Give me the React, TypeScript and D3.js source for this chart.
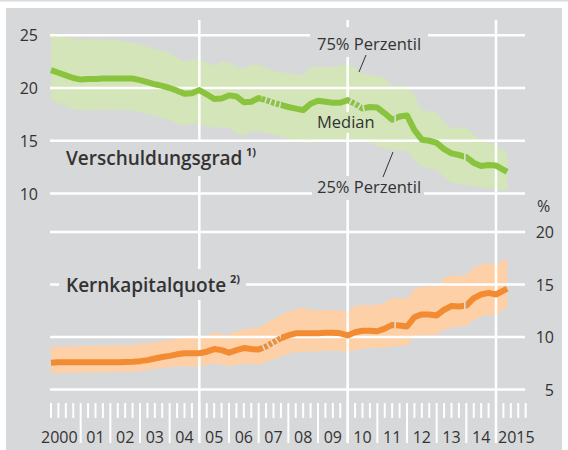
import React from "react";
import * as d3 from "d3";

// ---- data (quarterly, last point Apr 2015) ----
const dates: number[] = [...d3.range(61).map((i) => 2000 + i * 0.25), 2015.375];

const vgMedian = [
  21.7, 21.45, 21.2, 20.95, 20.8, 20.85, 20.85, 20.9, 20.9, 20.9, 20.9, 20.9,
  20.75, 20.55, 20.35, 20.2, 20.0, 19.75, 19.45, 19.5, 19.8, 19.4, 18.95, 19.0,
  19.3, 19.2, 18.65, 18.7, 19.05, 18.85, 18.6, 18.4, 18.2, 18.05, 17.9, 18.5,
  18.8, 18.7, 18.6, 18.6, 18.85, 18.5, 18.05, 18.2, 18.15, 17.6, 17.0, 17.3,
  17.4, 16.0, 15.1, 15.0, 14.8, 14.2, 13.8, 13.65, 13.45, 12.9, 12.6, 12.7,
  12.65, 12.05,
];
const vgP75 = [
  25.3, 25.1, 24.85, 24.65, 24.6, 24.6, 24.6, 24.6, 24.6, 24.5, 24.4, 24.3,
  24.1, 23.9, 23.7, 23.5, 23.3, 22.9, 22.5, 22.7, 22.65, 22.4, 22.1, 22.5,
  22.4, 22.0, 21.85, 22.2, 22.2, 21.9, 21.6, 21.5, 21.4, 21.3, 21.2, 22.0,
  22.0, 22.0, 22.0, 22.1, 22.3, 21.9, 21.3, 21.2, 21.2, 21.0, 20.2, 20.3,
  20.2, 19.3, 17.9, 17.8, 17.7, 16.7, 16.2, 16.25, 16.3, 15.6, 15.0, 14.8,
  14.4, 14.0,
];
const vgP25 = [
  18.85, 18.6, 18.3, 18.0, 17.9, 17.9, 17.95, 17.95, 17.95, 17.95, 17.9, 17.9,
  17.75, 17.55, 17.35, 17.15, 16.95, 16.6, 16.45, 16.6, 16.6, 16.4, 16.2, 16.25,
  16.3, 15.7, 15.5, 15.9, 15.9, 15.75, 15.6, 15.4, 15.2, 15.0, 14.8, 14.8,
  15.0, 15.1, 15.1, 15.1, 15.1, 15.1, 15.1, 14.8, 14.5, 14.3, 14.1, 14.1,
  14.0, 13.2, 12.6, 12.4, 12.2, 11.6, 11.1, 10.9, 10.8, 10.7, 10.6, 10.5,
  10.4, 10.3,
];

const kkMedian = [
  7.55, 7.6, 7.6, 7.6, 7.6, 7.6, 7.6, 7.6, 7.6, 7.6, 7.62, 7.65,
  7.7, 7.8, 7.95, 8.1, 8.2, 8.35, 8.45, 8.45, 8.45, 8.6, 8.85, 8.75,
  8.5, 8.75, 8.95, 8.85, 8.8, 9.1, 9.5, 9.9, 10.15, 10.35, 10.35, 10.35,
  10.35, 10.4, 10.4, 10.35, 10.15, 10.45, 10.6, 10.6, 10.55, 10.8, 11.15, 11.1,
  11.0, 11.9, 12.15, 12.15, 12.05, 12.6, 12.95, 12.9, 13.0, 13.7, 14.05, 14.2,
  14.05, 14.6,
];
const kkP75 = [
  9.1, 9.1, 9.1, 9.12, 9.15, 9.15, 9.15, 9.17, 9.2, 9.2, 9.22, 9.25,
  9.3, 9.4, 9.5, 9.6, 9.7, 9.8, 9.9, 9.95, 10.0, 10.2, 10.4, 10.3,
  10.2, 10.6, 10.75, 10.8, 10.9, 11.3, 11.7, 12.1, 12.4, 12.7, 12.75, 12.6,
  12.55, 12.6, 12.55, 12.5, 12.4, 12.95, 13.05, 13.05, 13.05, 13.3, 13.7, 13.7,
  13.7, 14.6, 14.8, 14.8, 14.8, 15.6, 15.85, 15.85, 15.9, 16.6, 16.95, 17.0,
  16.9, 17.5,
];
const kkP25 = [
  6.55, 6.55, 6.57, 6.6, 6.6, 6.6, 6.62, 6.65, 6.65, 6.67, 6.7, 6.7,
  6.75, 6.85, 6.95, 7.05, 7.15, 7.2, 7.2, 7.2, 7.2, 7.35, 7.5, 7.35,
  7.2, 7.35, 7.45, 7.4, 7.35, 7.6, 7.9, 8.15, 8.4, 8.55, 8.6, 8.6,
  8.65, 8.7, 8.75, 8.7, 8.5, 8.75, 8.9, 8.95, 8.95, 9.0, 9.1, 9.15,
  9.15, 10.0, 10.2, 10.2, 10.2, 10.7, 10.9, 11.0, 11.05, 11.6, 11.95, 12.1,
  12.1, 12.8,
];

const leftTicks = [25, 20, 15, 10];
const rightTicks = [20, 15, 10, 5];
const yearLabels = ["2000", "01", "02", "03", "04", "05", "06", "07", "08", "09", "10", "11", "12", "13", "14", "2015"];
// series breaks (dashed segments / single breaks), in decimal years
const dashedSpans = [
  [2007.1, 2007.75],
];
const vgDashedExtra = [[2010.05, 2010.6]];
const breaks = [2011.6, 2013.95];

const BG = "#d7d8da";
const GREEN = "#8ac43f";
const GREEN_BAND = "#d3e5b9";
const ORANGE = "#f28b32";
const ORANGE_BAND = "#fdd0a8";
const TXT = "#333333";
const STRIPE = "#dcdedd";
const FONT = "'Open Sans', 'Noto Sans', sans-serif";

export default function App() {
  const x = d3.scaleLinear().domain([2000, 2015]).range([51, 496]);
  const yL = d3.scaleLinear().domain([10, 25]).range([193.5, 35.25]);
  const yR = d3.scaleLinear().domain([5, 20]).range([389.5, 232]);

  const idx = dates.map((_, i) => i);
  const areaL = (lo: number[], hi: number[]) =>
    d3.area<number>().x((i) => x(dates[i])).y0((i) => yL(lo[i])).y1((i) => yL(hi[i]))(idx) || "";
  const areaR = (lo: number[], hi: number[]) =>
    d3.area<number>().x((i) => x(dates[i])).y0((i) => yR(lo[i])).y1((i) => yR(hi[i]))(idx) || "";
  const lineL = (v: number[]) => d3.line<number>().x((i) => x(dates[i])).y((i) => yL(v[i]))(idx) || "";
  const lineR = (v: number[]) => d3.line<number>().x((i) => x(dates[i])).y((i) => yR(v[i]))(idx) || "";

  const gMed = lineL(vgMedian);
  const oMed = lineR(kkMedian);

  const quarterTicks = d3.range(0, 65).map((i) => 2000 + i / 4);
  const gridYears = [2005, 2010, 2015];

  const gridX0 = 50;
  const gridX1 = 525;

  const greenSpans = [...dashedSpans, ...vgDashedExtra];
  const orangeSpans = [...dashedSpans];

  return (
    <svg width={568} height={450} style={{ position: "absolute", left: 0, top: 0 }} fontFamily={FONT}>
      <defs>
        {greenSpans.map((s, i) => (
          <clipPath id={`gclip${i}`} key={`gc${i}`}>
            <rect x={x(s[0])} y={0} width={x(s[1]) - x(s[0])} height={450} />
          </clipPath>
        ))}
        {orangeSpans.map((s, i) => (
          <clipPath id={`oclip${i}`} key={`oc${i}`}>
            <rect x={x(s[0])} y={0} width={x(s[1]) - x(s[0])} height={450} />
          </clipPath>
        ))}
        {breaks.map((b, i) => (
          <clipPath id={`bclip${i}`} key={`bc${i}`}>
            <rect x={x(b) - 0.8} y={0} width={1.6} height={450} />
          </clipPath>
        ))}
      </defs>
      <rect x={0} y={0} width={568} height={450} fill="#ffffff" />
      <rect x={0} y={0} width={568} height={1.5} fill="#dcdcdc" />
      <rect x={6} y={8} width={556} height={442} fill={BG} />

      {/* bands */}
      <path d={areaL(vgP25, vgP75)} fill={GREEN_BAND} />
      <path d={areaR(kkP25, kkP75)} fill={ORANGE_BAND} />

      {/* horizontal grid */}
      {leftTicks.map((t) => (
        <line key={`hl${t}`} x1={gridX0} x2={gridX1} y1={yL(t)} y2={yL(t)} stroke="#fff" strokeWidth={2.5} />
      ))}
      {rightTicks.map((t) => (
        <line key={`hr${t}`} x1={gridX0} x2={gridX1} y1={yR(t)} y2={yR(t)} stroke="#fff" strokeWidth={2.5} />
      ))}
      {/* vertical grid */}
      {gridYears.map((yv) => (
        <line key={`vg${yv}`} x1={x(yv)} x2={x(yv)} y1={20} y2={443} stroke="#fff" strokeWidth={2.5} />
      ))}
      {/* quarter / year ticks */}
      {quarterTicks.map((q, i) => {
        const isYear = i % 4 === 0 && i > 0 && i < 64;
        return (
          <line key={`qt${i}`} x1={x(q)} x2={x(q)} y1={403} y2={isYear ? 443 : 418} stroke="#fff" strokeWidth={2} />
        );
      })}

      {/* label knock-outs */}
      <rect x={62} y={142} width={200} height={34} fill={BG} />
      <rect x={59} y={269} width={187} height={31} fill={BG} />
      <rect x={310} y={27} width={118} height={30} fill={BG} />
      <rect x={312} y={176} width={112} height={24} fill={BG} />
      <rect x={314} y={112} width={62} height={21} fill={GREEN_BAND} />

      {/* medians */}
      <path d={gMed} fill="none" stroke={GREEN} strokeWidth={6} strokeLinejoin="round" />
      <path d={oMed} fill="none" stroke={ORANGE} strokeWidth={6} strokeLinejoin="round" />
      {greenSpans.map((_, i) => (
        <path key={`gd${i}`} d={gMed} fill="none" stroke={STRIPE} strokeWidth={6.5} strokeDasharray="1.6 3.4" clipPath={`url(#gclip${i})`} />
      ))}
      {orangeSpans.map((_, i) => (
        <path key={`od${i}`} d={oMed} fill="none" stroke={STRIPE} strokeWidth={6.5} strokeDasharray="1.6 3.4" clipPath={`url(#oclip${i})`} />
      ))}
      {breaks.map((_, i) => (
        <g key={`br${i}`} clipPath={`url(#bclip${i})`}>
          <path d={gMed} fill="none" stroke={STRIPE} strokeWidth={7} />
          <path d={oMed} fill="none" stroke={STRIPE} strokeWidth={7} />
        </g>
      ))}

      {/* axis labels */}
      {leftTicks.map((t) => (
        <text key={`lt${t}`} x={38} y={yL(t) + 6} textAnchor="end" fontSize={16} fill={TXT}>
          {t}
        </text>
      ))}
      {rightTicks.map((t) => (
        <text key={`rt${t}`} x={554} y={yR(t) + 6} textAnchor="end" fontSize={16} fill={TXT}>
          {t}
        </text>
      ))}
      <text x={537} y={212} fontSize={16} fill={TXT}>%</text>

      {yearLabels.map((lab, i) => {
        const yr = 2000 + i;
        let xp = x(yr + 0.5);
        let anchor: "middle" | "end" | "start" = "middle";
        if (i === 0) {
          xp = x(yr + 1) - 3;
          anchor = "end";
        } else if (i === yearLabels.length - 1) {
          xp = x(yr) + 2;
          anchor = "start";
        }
        return (
          <text key={`yl${i}`} x={xp} y={443} textAnchor={anchor} fontSize={16} fill={TXT}>
            {lab}
          </text>
        );
      })}

      {/* series titles */}
      <text x={66} y={165} fontSize={19} fontWeight={600} fill={TXT}>
        Verschuldungsgrad
      </text>
      <text x={246} y={156} fontSize={11} fontWeight={700} fill={TXT}>1)</text>
      <text x={66} y={292} fontSize={19} fontWeight={600} fill={TXT}>
        Kernkapitalquote
      </text>
      <text x={230} y={283} fontSize={11} fontWeight={700} fill={TXT}>2)</text>

      {/* annotations */}
      <text x={317} y={50} fontSize={16.5} fill={TXT}>75% Perzentil</text>
      <line x1={366} y1={55} x2={359} y2={72} stroke={TXT} strokeWidth={1} />
      <text x={317} y={128} fontSize={16.5} fill={TXT}>Median</text>
      <text x={317} y={193} fontSize={16.5} fill={TXT}>25% Perzentil</text>
      <line x1={393} y1={152} x2={383} y2={177} stroke={TXT} strokeWidth={1} />
    </svg>
  );
}
